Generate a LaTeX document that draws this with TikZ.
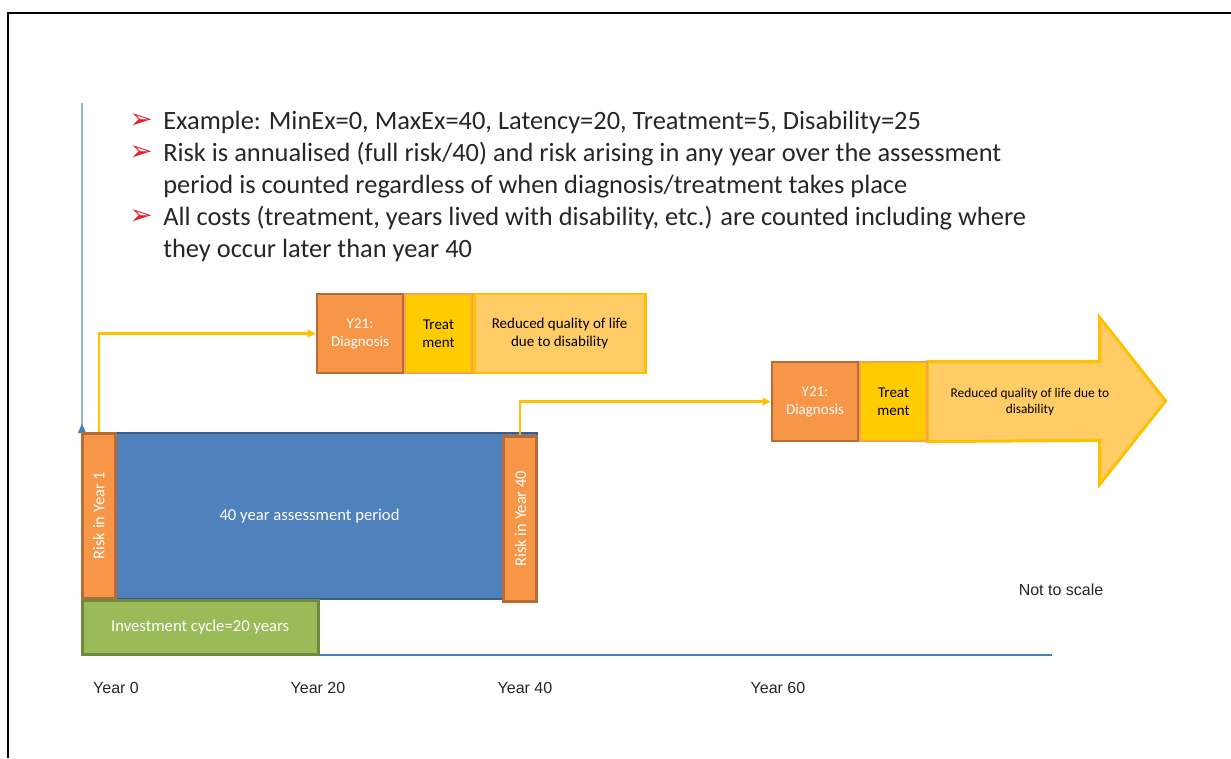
\documentclass[tikz,border=0pt]{standalone}
\usepackage{fontspec}
\usepackage{graphicx}
\setmainfont{Carlito}
\newfontfamily\axisfont{Liberation Sans}
\newfontfamily\dingfont{DejaVu Sans}
\usetikzlibrary{arrows.meta,positioning,backgrounds}
\definecolor{rkfill}{RGB}{247,150,70}
\definecolor{rkedge}{RGB}{182,108,52}
\definecolor{trtfill}{RGB}{255,204,0}
\definecolor{trtedge}{RGB}{247,163,80}
\definecolor{qolfill}{RGB}{255,204,102}
\definecolor{qoledge}{RGB}{255,192,0}
\definecolor{perfill}{RGB}{79,129,189}
\definecolor{peredge}{RGB}{56,93,138}
\definecolor{invfill}{RGB}{155,187,89}
\definecolor{invedge}{RGB}{113,137,63}
\definecolor{axlight}{RGB}{149,179,215}
\definecolor{axdark}{RGB}{74,126,187}
\definecolor{tipred}{RGB}{232,30,40}
\tikzset{
  blk/.style 2 args={
    minimum width=#1*0.75pt, minimum height=#2*0.75pt,
    inner sep=0pt, align=center
  },
  small/.style={font=\fontsize{11.25}{13.5}\selectfont},
  diagbox/.style={blk={86}{79}, small, draw=rkedge, line width=2.2pt, fill=rkfill, text=white},
  treatbox/.style={blk={67}{79}, small, draw=trtedge, line width=0.9pt, fill=trtfill},
  qolbox/.style={blk={171}{79}, small, draw=qoledge, line width=2.2pt, fill=qolfill},
  riskbox/.style={blk={33}{165}, draw=rkedge, line width=2.2pt, fill=rkfill, text=white,
    font=\fontsize{12.3}{14}\selectfont},
  period/.style={blk={455}{166}, draw=peredge, line width=2pt, fill=perfill, text=white,
    font=\fontsize{12.5}{15}\selectfont},
  invest/.style={blk={236}{54}, draw=invedge, line width=2.2pt, fill=invfill, text=white,
    font=\fontsize{12.5}{15}\selectfont},
  link/.style={-{Triangle[length=6pt,width=6pt]}, draw=qoledge, line width=1.6pt},
  bullettext/.style={anchor=base west, align=left, inner sep=0pt,
    font=\fontsize{19.8}{24}\selectfont, text=black!85},
  pointer/.style={anchor=base, inner sep=0pt, text=tipred,
    font=\dingfont\fontsize{21}{21}\selectfont},
  yearlbl/.style={font=\axisfont\fontsize{12}{14}\selectfont, text=black!85}
}
\begin{document}
\begin{tikzpicture}[x=0.75pt, y=-0.75pt]
  \useasboundingbox (0,0) rectangle (1231,758);
  \draw[line width=2.2pt] (8,758) -- (8,13) -- (1231,13);

  \coordinate (ybot) at (82,433);
  \coordinate (ytop) at (82,103);
  \coordinate (xleft) at (82,655);
  \coordinate (xright) at (1052,655);
  \draw[axlight, line width=1pt, {Triangle[reversed,length=7pt,width=6pt,color=axdark]}-] (ybot) -- (ytop);
  \draw[axdark, line width=0.9pt] (xleft) -- (xright);

  % multi-line nodes sit on the baseline of their last line
  \node[pointer] (p1) at (141,128) {➢};
  \node[pointer] (p2) at (141,160) {➢};
  \node[pointer] (p3) at (141,224) {➢};
  \node[bullettext] (b1) at (163,129) {Example: MinEx=0, MaxEx=40, Latency=20, Treatment=5, Disability=25};
  \node[bullettext] (b2) at (163,193) {Risk is annualised (full risk/40) and risk arising in any year over the assessment\\period is counted regardless of when diagnosis/treatment takes place};
  \node[bullettext] (b3) at (163,257) {All costs (treatment, years lived with disability, etc.) are counted including where\\they occur later than year 40};

  \node[period] (assess) at (309.5,516) {40 year assessment period};
  \node[riskbox, anchor=north west] (risk1) at (assess.north west) {\rotatebox{90}{Risk in Year 1}};
  \node[riskbox, anchor=east] (risk40) at ([yshift=-2]assess.east) {\rotatebox{90}{Risk in Year 40}};
  \node[invest, anchor=north west] (cycle) at ([yshift=1]assess.south west) {Investment cycle=20 years};

  \node[diagbox] (diag1) at (360,333.5) {Y21:\\Diagnosis};
  \node[treatbox, right=0pt of diag1] (treat1) {Treat\\ment};
  \node[qolbox, right=0pt of treat1] (qol1) {Reduced quality of life\\due to disability};

  \node[diagbox] (diag2) at (815,401.5) {Y21:\\Diagnosis};
  \node[treatbox, right=0pt of diag2] (treat2) {Treat\\ment};
  \node[blk={204}{79}, right=0pt of treat2, font=\fontsize{10}{12}\selectfont] (qol2)
    {Reduced quality of life due to\\disability};
  \begin{scope}[on background layer]
    \draw[draw=qoledge, fill=qolfill, line width=2.2pt, line join=miter]
      (treat2.north east) -- ++(172,0) -- ++(0,-44) -- ++(66,83.5)
      -- ++(-66,83.5) -- ++(0,-44) -- (treat2.south east) -- cycle;
  \end{scope}

  \draw[link] (risk1.north) |- (diag1.west);
  \draw[link] (risk40.north) |- (diag2.west);

  \node[yearlbl] (y0) at (116,688) {Year 0};
  \node[yearlbl] (y20) at (318,688) {Year 20};
  \node[yearlbl] (y40) at (525,688) {Year 40};
  \node[yearlbl] (y60) at (778,688) {Year 60};
  \node[yearlbl] (scale) at (1061,590) {Not to scale};
\end{tikzpicture}
\end{document}
